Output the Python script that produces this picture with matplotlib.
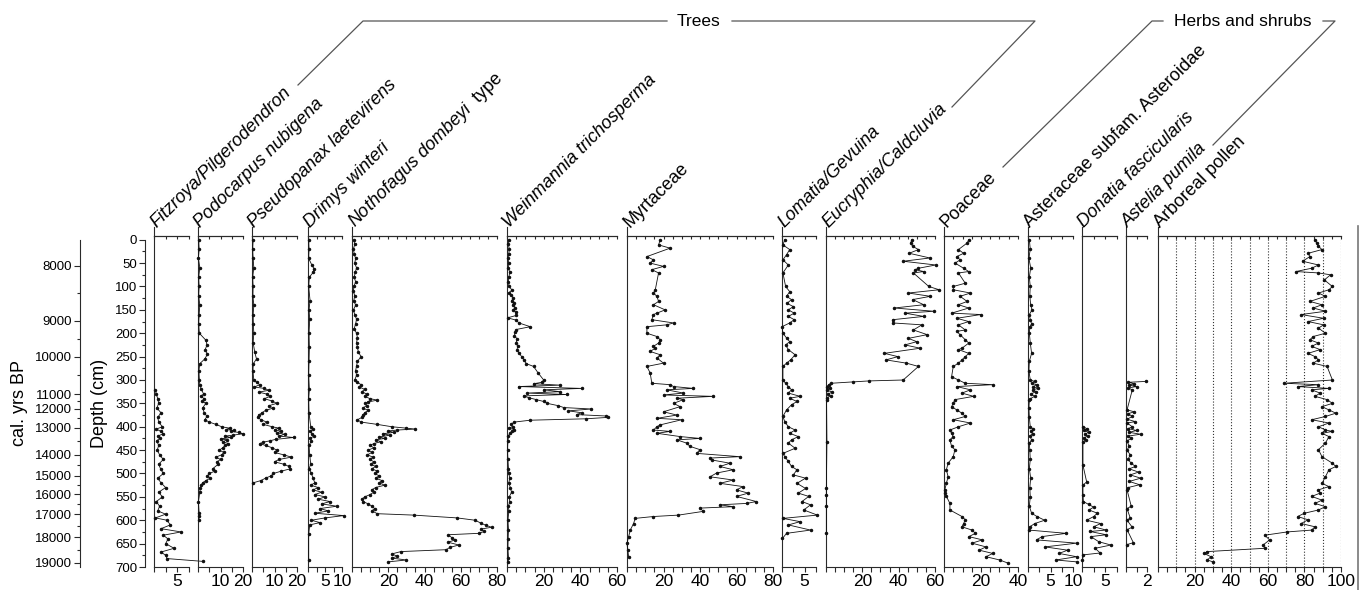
import matplotlib.pyplot as plt
import numpy as np
from matplotlib.lines import Line2D

plt.rcParams['font.family'] = ['Liberation Sans', 'DejaVu Sans']
plt.rcParams['mathtext.fontset'] = 'custom'
plt.rcParams['mathtext.rm'] = 'Liberation Sans'
plt.rcParams['mathtext.it'] = 'Liberation Sans:italic'

# ---- pollen percentages: (depth cm, %) ----
fitzroya = [(322, 0.3), (330, 0.5), (340, 0.8), (350, 1.0), (360, 0.6), (370, 1.5), (380, 0.8), (390, 1.0),
            (400, 1.8), (405, 0.5), (410, 1.5), (415, 2.0), (420, 0.8), (425, 1.2), (430, 0.6), (440, 1.0),
            (450, 0.7), (460, 1.2), (470, 2.0), (480, 1.0), (490, 1.4), (500, 2.0), (510, 0.8), (520, 1.5),
            (530, 2.5), (540, 1.0), (550, 1.8), (560, 0.5), (570, 1.2), (580, 0.8), (587, 2.5), (595, 0.3),
            (600, 2.8), (610, 3.5), (618, 1.5), (625, 5.8), (632, 2.0), (640, 3.0), (650, 2.5), (660, 4.3),
            (668, 1.5), (675, 2.5), (682, 2.8), (688, 10.5)]

podocarpus = [(0, 0.3), (20, 0.5), (40, 0.2), (60, 0.8), (80, 0.3), (100, 0.5), (120, 0.3), (140, 0.8),
              (160, 0.5), (180, 0.3), (200, 0.6), (215, 3.5), (225, 4.0), (235, 3.2), (245, 4.2), (255, 3.0),
              (265, 0.8), (280, 0.4), (300, 0.6), (310, 0.8), (320, 1.5), (330, 2.5), (335, 1.2), (340, 2.8),
              (345, 1.8), (350, 3.5), (360, 2.0), (370, 2.8), (378, 4.0), (385, 3.0), (390, 5.0), (395, 8.0),
              (400, 10.5), (403, 14.0), (406, 12.5), (408, 16.0), (410, 14.5), (412, 18.0), (415, 20.0),
              (418, 15.5), (420, 12.0), (423, 14.5), (426, 10.0), (428, 13.0), (432, 11.0), (436, 13.5),
              (440, 12.0), (445, 11.0), (450, 9.5), (455, 11.5), (460, 10.5), (465, 8.0), (470, 10.0),
              (475, 8.5), (480, 9.0), (490, 6.5), (495, 7.5), (500, 5.0), (505, 4.2), (510, 5.5), (515, 3.5),
              (520, 2.0), (525, 1.5), (530, 1.0), (540, 0.8), (560, 0.2), (585, 0.5), (590, 0.3), (600, 0.5)]

pseudopanax = [(0, 0.5), (20, 0.3), (40, 0.5), (60, 0.8), (80, 0.3), (100, 0.5), (120, 0.4), (140, 0.8),
               (160, 0.5), (180, 0.6), (200, 0.8), (220, 0.5), (240, 1.2), (255, 2.0), (265, 0.6), (280, 0.4),
               (300, 0.8), (305, 2.0), (310, 3.5), (315, 1.0), (318, 5.5), (322, 7.5), (326, 3.0), (330, 6.5),
               (335, 8.0), (340, 5.5), (345, 9.0), (350, 11.0), (355, 7.5), (360, 9.5), (365, 6.0), (370, 4.5),
               (375, 3.0), (380, 2.5), (385, 4.0), (390, 6.5), (395, 5.0), (400, 9.0), (403, 12.0), (406, 10.0),
               (410, 13.0), (413, 11.0), (416, 14.5), (420, 12.0), (423, 18.5), (427, 10.5), (430, 8.0),
               (433, 5.0), (436, 3.5), (440, 6.0), (445, 9.0), (450, 11.0), (455, 10.0), (460, 14.0),
               (465, 17.5), (470, 12.0), (475, 10.0), (480, 14.0), (485, 16.5), (490, 17.0), (495, 13.0),
               (500, 9.5), (505, 8.5), (510, 6.0), (515, 4.0), (520, 0.5)]

drimys = [(0, 0.2), (20, 0.3), (40, 0.2), (55, 1.2), (62, 1.8), (70, 1.5), (80, 0.4), (100, 0.2), (130, 0.6),
          (150, 0.3), (170, 0.5), (200, 0.3), (230, 0.4), (260, 0.3), (290, 0.2), (320, 0.4), (340, 0.2),
          (370, 0.3), (400, 0.8), (405, 1.5), (410, 0.6), (415, 1.2), (420, 1.8), (425, 0.5), (430, 1.0),
          (440, 0.3), (460, 0.5), (480, 0.8), (490, 0.3), (500, 1.0), (510, 1.5), (520, 2.0), (525, 0.8),
          (530, 3.0), (535, 1.5), (540, 4.0), (545, 2.0), (550, 5.0), (555, 3.0), (560, 6.5), (565, 4.0),
          (570, 8.5), (575, 3.5), (580, 6.0), (585, 2.0), (590, 10.5), (595, 5.0), (600, 1.0), (605, 3.5),
          (610, 0.5), (630, 0.2), (685, 0.2)]

nothofagus = [(0, 1.0), (10, 1.5), (20, 0.8), (30, 1.2), (40, 2.0), (50, 1.5), (60, 2.5), (70, 1.8), (80, 1.2),
              (90, 2.0), (100, 1.0), (110, 0.8), (120, 1.5), (130, 1.0), (140, 2.0), (150, 0.8), (160, 1.5),
              (170, 2.5), (180, 2.0), (190, 1.2), (200, 2.5), (210, 3.0), (220, 2.5), (230, 3.0), (240, 3.5),
              (250, 5.0), (260, 3.0), (270, 2.5), (280, 2.0), (290, 2.5), (300, 1.5), (305, 3.0), (310, 5.0),
              (315, 4.0), (320, 7.0), (325, 5.5), (330, 8.0), (335, 7.0), (340, 10.0), (343, 14.0), (347, 9.0),
              (350, 7.0), (355, 8.0), (360, 6.0), (365, 9.0), (370, 7.0), (375, 6.0), (380, 5.5), (385, 3.0),
              (390, 5.0), (395, 14.0), (400, 22.0), (403, 30.0), (405, 35.0), (407, 25.0), (409, 20.0),
              (412, 23.0), (415, 17.0), (418, 21.0), (422, 15.0), (425, 18.0), (428, 13.0), (432, 16.0),
              (436, 12.0), (440, 10.0), (445, 12.0), (450, 9.0), (455, 11.0), (460, 8.5), (465, 11.5),
              (470, 10.0), (475, 12.0), (480, 10.5), (485, 13.0), (490, 11.0), (495, 14.0), (500, 12.5),
              (505, 15.0), (510, 13.0), (515, 16.5), (520, 15.0), (525, 18.0), (530, 13.0), (535, 11.0),
              (540, 12.0), (545, 10.0), (550, 7.0), (555, 5.5), (560, 6.0), (565, 9.0), (570, 11.0),
              (575, 12.5), (580, 11.0), (586, 14.0), (589, 34.0), (595, 58.0), (600, 68.0), (606, 71.0),
              (611, 74.0), (615, 77.0), (619, 71.0), (624, 73.0), (628, 70.0), (631, 53.0), (637, 55.0),
              (642, 57.0), (647, 53.0), (653, 59.0), (658, 54.0), (663, 52.0), (667, 27.0), (672, 22.0),
              (677, 25.0), (681, 22.0), (685, 30.0), (689, 20.0)]

weinmannia = [(0, 1.0), (10, 0.8), (20, 1.2), (30, 1.0), (40, 0.5), (50, 1.0), (60, 0.8), (70, 1.5), (80, 1.0),
              (90, 0.7), (100, 1.2), (108, 2.8), (113, 1.0), (118, 2.0), (125, 3.5), (130, 2.5), (135, 4.0),
              (140, 3.0), (145, 4.5), (150, 3.5), (155, 4.8), (162, 5.0), (167, 0.3), (172, 5.0), (178, 6.5),
              (186, 12.7), (192, 5.0), (198, 4.5), (205, 4.0), (212, 5.5), (220, 5.0), (228, 5.8), (235, 5.5),
              (242, 6.5), (250, 8.0), (258, 9.5), (265, 10.5), (271, 14.5), (285, 17.0), (300, 20.0),
              (305, 19.0), (308, 14.5), (311, 29.0), (314, 6.3), (318, 40.7), (321, 20.0), (325, 29.0),
              (328, 11.0), (331, 32.5), (334, 9.0), (338, 12.0), (342, 16.0), (346, 20.0), (350, 22.0),
              (355, 28.0), (359, 31.0), (362, 46.0), (366, 33.5), (370, 40.7), (374, 38.0), (377, 54.0),
              (380, 55.0), (383, 43.0), (386, 12.7), (390, 4.0), (395, 2.0), (400, 3.0), (403, 1.0), (406, 4.0),
              (410, 2.5), (414, 1.5), (420, 0.8), (430, 0.5), (450, 0.3), (470, 0.5), (490, 0.8), (500, 1.0),
              (510, 1.5), (520, 1.0), (530, 1.8), (540, 2.5), (550, 1.2), (560, 1.5), (570, 0.8), (580, 1.0),
              (600, 0.5), (620, 0.8), (640, 0.6), (660, 0.5), (680, 0.8), (690, 0.6)]

myrtaceae = [(0, 18.2), (11, 17.3), (18, 23.6), (36, 10.9), (43, 14.5), (50, 12.7), (57, 20.0), (64, 13.6),
             (71, 17.3), (107, 15.5), (114, 14.5), (121, 16.4), (132, 17.3), (139, 14.5), (150, 20.9),
             (157, 16.4), (160, 14.5), (171, 13.6), (178, 25.5), (182, 21.8), (186, 10.9), (200, 10.9),
             (207, 16.4), (214, 18.2), (221, 17.3), (228, 14.5), (232, 15.5), (239, 12.7), (246, 18.2),
             (253, 16.4), (264, 20.0), (271, 10.9), (285, 12.7), (307, 13.6), (310, 23.6), (314, 25.5),
             (318, 36.4), (321, 21.8), (328, 30.9), (332, 20.0), (335, 47.3), (339, 27.3), (342, 30.9),
             (350, 25.5), (357, 29.1), (368, 20.0), (375, 27.3), (382, 16.4), (385, 30.0), (396, 18.2),
             (400, 16.4), (407, 14.5), (410, 23.6), (414, 16.4), (421, 29.1), (425, 40.0), (428, 27.3),
             (435, 32.7), (442, 34.5), (449, 40.0), (457, 38.2), (464, 61.8), (467, 45.5), (471, 46.4),
             (478, 56.4), (485, 50.9), (492, 58.2), (499, 49.1), (507, 45.5), (514, 58.2), (521, 50.9),
             (528, 63.6), (535, 60.0), (542, 66.4), (549, 60.0), (560, 70.9), (564, 65.5), (567, 50.9),
             (571, 58.2), (574, 40.0), (581, 41.8), (589, 28.2), (592, 14.5), (596, 4.5), (607, 3.6),
             (621, 1.8), (635, 0.9), (649, 0.0), (664, 0.4), (678, 0.9)]

lomatia = [(0, 0.6), (11, 0.2), (21, 1.7), (32, 1.0), (43, 0.2), (54, 1.4), (71, 0.2), (100, 0.8), (111, 1.7),
           (121, 1.0), (128, 2.1), (136, 1.1), (143, 2.5), (150, 1.4), (157, 2.7), (164, 1.4), (171, 2.7),
           (178, 1.7), (186, 0.0), (200, 0.2), (210, 1.0), (218, 1.7), (225, 0.8), (235, 1.4), (246, 2.9),
           (257, 1.9), (264, 1.0), (271, 0.2), (300, 0.2), (307, 0.8), (314, 1.4), (321, 2.1), (328, 1.4),
           (335, 4.0), (339, 1.7), (346, 3.3), (353, 2.1), (364, 1.0), (378, 0.2), (389, 0.6), (400, 1.4),
           (407, 2.9), (414, 1.7), (421, 3.6), (428, 2.1), (435, 1.4), (446, 2.9), (457, 0.2), (464, 0.6),
           (474, 1.4), (485, 2.1), (492, 3.3), (503, 2.5), (510, 5.2), (521, 3.3), (532, 5.2), (542, 3.6),
           (549, 5.9), (560, 4.4), (567, 6.3), (578, 4.8), (589, 7.8), (596, 0.2), (603, 4.0), (610, 1.4),
           (621, 6.3), (628, 1.0), (639, 0.1)]

eucryphia = [(0, 47.2), (7, 46.6), (14, 47.7), (21, 50.9), (29, 45.8), (39, 57.2), (46, 42.5), (54, 60.4),
             (61, 50.9), (64, 49.1), (68, 53.8), (71, 48.1), (100, 56.6), (107, 62.3), (114, 45.3), (121, 57.5),
             (128, 47.7), (139, 53.8), (146, 37.7), (153, 59.4), (157, 43.4), (164, 53.8), (171, 36.8),
             (178, 36.8), (182, 52.8), (193, 48.1), (203, 55.7), (211, 45.3), (218, 50.0), (225, 43.4),
             (232, 51.9), (243, 32.1), (250, 39.6), (257, 33.0), (264, 44.3), (271, 50.9), (300, 42.5),
             (302, 23.6), (304, 15.1), (307, 2.8), (310, 1.5), (314, 0.5), (318, 2.0), (322, 0.8), (326, 3.5),
             (330, 1.0), (334, 2.5), (338, 0.5), (342, 0.3), (432, 0.5), (530, 0.2), (545, 0.2), (570, 0.2),
             (628, 0.2)]

poaceae = [(0, 13.4), (7, 12.5), (21, 7.8), (29, 10.6), (36, 6.9), (43, 8.7), (50, 6.0), (61, 10.6), (68, 13.4),
           (71, 7.8), (93, 11.5), (100, 5.0), (107, 5.0), (114, 14.3), (121, 8.7), (132, 12.5), (139, 7.8),
           (146, 13.4), (157, 4.1), (160, 19.9), (168, 6.9), (175, 13.4), (182, 7.8), (193, 11.5), (196, 6.9),
           (203, 8.7), (214, 11.5), (221, 13.4), (232, 9.7), (235, 7.8), (243, 13.4), (250, 11.5), (257, 9.7),
           (264, 7.8), (271, 5.0), (293, 4.1), (300, 7.8), (307, 11.5), (310, 26.4), (314, 6.9), (321, 14.3),
           (328, 9.7), (335, 16.0), (342, 5.9), (350, 5.0), (357, 4.1), (364, 6.9), (371, 9.7), (378, 11.5),
           (385, 5.0), (392, 14.3), (400, 7.8), (407, 3.2), (414, 4.1), (421, 5.0), (428, 3.2), (442, 4.1),
           (449, 5.9), (464, 5.0), (478, 2.2), (492, 1.3), (507, 2.2), (521, 1.3), (535, 0.4), (542, 0.4),
           (549, 1.3), (564, 3.2), (578, 3.2), (592, 9.7), (599, 11.5), (607, 10.6), (614, 9.7), (621, 15.1),
           (628, 17.0), (635, 13.4), (642, 20.8), (649, 15.1), (657, 22.7), (664, 19.0), (671, 26.4),
           (678, 22.7), (685, 30.1), (692, 34.8)]

asteraceae = [(0, 0.3), (20, 0.5), (40, 0.2), (60, 0.6), (80, 0.3), (100, 0.5), (120, 0.4), (140, 0.6),
              (150, 0.9), (160, 0.3), (171, 0.5), (180, 0.8), (186, 0.4), (200, 0.3), (220, 0.5), (243, 0.8),
              (260, 0.3), (280, 0.2), (300, 0.5), (303, 1.5), (307, 0.8), (310, 1.9), (314, 1.2), (318, 2.3),
              (321, 1.0), (325, 1.8), (330, 0.6), (335, 1.5), (340, 0.5), (343, 0.3), (360, 0.2), (380, 0.3),
              (400, 0.5), (405, 1.2), (410, 0.6), (415, 1.0), (420, 0.4), (428, 0.8), (435, 0.3), (450, 0.4),
              (470, 0.5), (490, 0.3), (510, 0.6), (530, 0.4), (550, 0.5), (570, 0.3), (585, 0.8), (592, 2.0),
              (600, 3.7), (607, 1.5), (614, 0.4), (621, 0.2), (628, 8.5), (635, 3.1), (642, 1.9), (649, 10.8),
              (657, 3.8), (664, 8.8), (671, 6.9), (678, 10.8), (685, 6.2), (689, 10.8)]

donatia = [(400, 0.3), (404, 1.0), (408, 0.5), (412, 1.4), (416, 0.6), (420, 1.2), (424, 0.4), (428, 0.8),
           (432, 0.2), (482, 0.2), (518, 1.0), (525, 0.2), (546, 0.2), (560, 0.3), (566, 1.4), (572, 2.5),
           (578, 1.5), (585, 3.3), (592, 2.5), (600, 1.0), (607, 4.0), (614, 2.5), (621, 5.2), (624, 1.7),
           (631, 5.2), (635, 1.9), (646, 3.6), (653, 6.2), (660, 2.8), (670, 3.9), (674, 0.3), (685, 0.1)]

astelia = [(303, 1.9), (305, 0.2), (308, 0.8), (311, 0.3), (314, 1.0), (317, 0.2), (321, 0.6), (364, 0.1),
           (368, 0.8), (372, 0.2), (378, 0.6), (384, 0.1), (389, 0.9), (392, 0.1), (400, 0.6), (404, 0.2),
           (408, 1.0), (412, 0.3), (416, 1.4), (420, 0.2), (425, 0.5), (430, 0.1), (442, 0.3), (450, 0.1),
           (460, 0.4), (470, 0.2), (478, 0.5), (485, 0.9), (490, 0.3), (497, 1.2), (503, 0.4), (510, 1.4),
           (517, 0.3), (524, 1.3), (530, 0.2), (535, 0.1), (570, 0.5), (575, 0.1), (595, 0.4), (600, 0.1),
           (615, 0.6), (620, 0.1), (648, 0.7), (652, 0.1)]

arboreal = [(0, 85.8), (7, 86.7), (14, 87.7), (21, 89.6), (29, 82.0), (36, 83.0), (46, 79.0), (54, 87.7),
            (61, 83.9), (68, 75.4), (71, 87.7), (75, 94.3), (86, 90.9), (100, 95.3), (107, 93.4), (114, 87.7),
            (121, 91.5), (132, 83.0), (139, 89.6), (146, 84.8), (153, 91.5), (160, 78.2), (168, 90.5),
            (175, 82.0), (182, 90.5), (189, 87.7), (200, 91.5), (207, 84.8), (214, 83.0), (221, 87.7),
            (228, 83.9), (235, 88.6), (243, 82.0), (250, 85.8), (257, 87.7), (264, 84.8), (271, 92.4),
            (300, 95.3), (307, 68.8), (310, 87.7), (314, 76.3), (318, 93.4), (321, 83.9), (328, 88.6),
            (335, 85.8), (342, 92.4), (350, 95.3), (357, 89.6), (364, 93.4), (371, 97.2), (378, 91.5),
            (385, 84.0), (392, 93.4), (400, 87.7), (407, 91.5), (410, 95.3), (414, 89.6), (421, 93.4),
            (435, 91.5), (449, 87.7), (464, 89.6), (478, 95.3), (485, 97.2), (492, 93.4), (507, 91.5),
            (521, 89.6), (528, 93.4), (535, 87.7), (542, 88.6), (549, 84.0), (557, 89.6), (564, 85.8),
            (571, 91.5), (578, 87.7), (585, 80.0), (592, 76.3), (599, 82.0), (607, 78.2), (614, 85.8),
            (621, 84.0), (625, 70.6), (632, 58.3), (642, 61.0), (653, 57.4), (660, 58.3), (667, 27.0),
            (671, 25.2), (678, 28.9), (685, 27.0), (689, 30.0)]

# calibrated age scale and where each age sits on the depth axis
age_ticks = [8000, 9000, 10000, 11000, 12000, 13000, 14000, 15000, 16000, 17000, 18000, 19000]
age_depth = [56, 173, 250, 330, 362, 402, 460, 505, 544, 587, 636, 691]

taxa = ['Fitzroya/Pilgerodendron', 'Podocarpus nubigena', 'Pseudopanax laetevirens', 'Drimys winteri',
        r'$\mathit{Nothofagus\ dombeyi}$  type', 'Weinmannia trichosperma', 'Myrtaceae', 'Lomatia/Gevuina',
        'Eucryphia/Caldcluvia', 'Poaceae', 'Asteraceae subfam. Asteroidae', 'Donatia fascicularis',
        'Astelia pumila', 'Arboreal pollen']
is_italic = [True, True, True, True, False, True, False, True, True, False, False, True, True, False]
series = [fitzroya, podocarpus, pseudopanax, drimys, nothofagus, weinmannia, myrtaceae, lomatia,
          eucryphia, poaceae, asteraceae, donatia, astelia, arboreal]
tick_labels = [[5], [10, 20], [10, 20], [5, 10], [20, 40, 60, 80], [20, 40, 60], [20, 40, 60, 80], [5],
               [20, 40, 60], [20, 40], [5, 10], [5], [2], [20, 40, 60, 80, 100]]

# ---- layout, in pixels of the 1363x590 picture ----
W, H = 1363, 590
panel_left = [154, 198, 252, 308, 352, 507, 627, 782, 826, 944, 1028, 1082, 1126, 1158]
panel_right = [189, 243, 297, 342, 497, 617, 773, 816, 935, 1018, 1073, 1117, 1147, 1341]
x_max = [7.5, 20, 20, 10, 80, 60, 80, 7.5, 60, 40, 10, 7.5, 2, 100]
tick_step = [2.5, 5, 5, 2.5, 5, 5, 5, 2.5, 5, 5, 2.5, 2.5, 1, 5]
TOP, BOTTOM = 236, 567
INK = '#2a2a2a'
GREY = '#555555'


def fxy(x, y):
    return x / W, 1 - y / H


fig = plt.figure(figsize=(W / 100, H / 100), dpi=100)
ax_b = 1 - BOTTOM / H
ax_h = (BOTTOM - TOP) / H
ylim = (700, -8)

for i, data in enumerate(series):
    l, r = panel_left[i], panel_right[i]
    ax = fig.add_axes([l / W, ax_b, (r - l) / W, ax_h])
    ax.patch.set_visible(False)
    depth, pct = np.array(data).T
    ax.plot(pct, depth, color='#111111', lw=0.6, marker='o', ms=1.5, clip_on=False, zorder=3)
    ax.set_xlim(0, x_max[i])
    ax.set_ylim(*ylim)
    ax.set_yticks([])
    ax.spines['right'].set_visible(False)
    for s in ['left', 'top', 'bottom']:
        ax.spines[s].set_linewidth(0.8)
        ax.spines[s].set_color(INK)
    ticks = np.arange(0, x_max[i] + 1e-9, tick_step[i])
    ax.set_xticks(ticks)
    ax.set_xticklabels([f'{t:g}' if t in tick_labels[i] else '' for t in ticks])
    ax.tick_params(axis='x', direction='out', length=3.5, width=0.8, color=INK,
                   labelsize=12.5, pad=1.5)
    sec = ax.secondary_xaxis('top')
    sec.set_xticks(ticks)
    sec.tick_params(axis='x', direction='in', length=2.5, width=0.8, color=INK, labeltop=False)
    sec.spines['top'].set_linewidth(0.8)
    sec.spines['top'].set_color(INK)
    # left edge reaches a little above the frame
    ax.plot([0, 0], [1, 1 + 9 / (BOTTOM - TOP)], transform=ax.transAxes, color=INK, lw=0.8,
            clip_on=False)
    if i == len(series) - 1:
        for g in range(10, 101, 10):
            ax.axvline(g, ls=':', lw=0.8, color='#333333', zorder=1)
    fig.text(*fxy(l + 2.5, 228), taxa[i], rotation=45, rotation_mode='anchor', ha='left',
             va='baseline', fontsize=13, style='italic' if is_italic[i] else 'normal')

# depth scale
axd = fig.add_axes([145 / W, ax_b, 0.0001, ax_h])
axd.patch.set_visible(False)
for s in ['top', 'right', 'bottom']:
    axd.spines[s].set_visible(False)
axd.spines['left'].set_bounds(0, 700)
axd.spines['left'].set_color(INK)
axd.spines['left'].set_linewidth(0.8)
axd.set_ylim(*ylim)
axd.set_xticks([])
axd.set_yticks(np.arange(0, 701, 50))
axd.set_yticks(np.arange(25, 700, 50), minor=True)
axd.tick_params(axis='y', which='major', length=4, width=0.8, color=INK, labelsize=9.5, pad=1.5)
axd.tick_params(axis='y', which='minor', length=2.5, width=0.8, color=INK)

# age scale
axa = fig.add_axes([80 / W, ax_b, 0.0001, ax_h])
axa.patch.set_visible(False)
for s in ['top', 'right', 'bottom']:
    axa.spines[s].set_visible(False)
axa.spines['left'].set_bounds(0, 700)
axa.spines['left'].set_color(INK)
axa.spines['left'].set_linewidth(0.8)
axa.set_ylim(*ylim)
axa.set_xticks([])
axa.set_yticks(age_depth)
axa.set_yticklabels([str(a) for a in age_ticks])
axa.set_yticks([(a + b) / 2 for a, b in zip(age_depth[:-1], age_depth[1:])], minor=True)
axa.tick_params(axis='y', which='major', length=4, width=0.8, color=INK, labelsize=9.5, pad=2)
axa.tick_params(axis='y', which='minor', length=2.5, width=0.8, color=INK)

fig.text(*fxy(20, 403), 'cal. yrs BP', rotation=90, ha='center', va='center', fontsize=13)
fig.text(*fxy(99, 403), 'Depth (cm)', rotation=90, ha='center', va='center', fontsize=13)

# group brackets
brackets = [
    [(298, 85), (363, 21), (667, 21)],
    [(732, 21), (1035, 21), (952, 107)],
    [(1003, 167), (1152, 21), (1163, 21)],
    [(1323, 21), (1335, 21), (1213, 145)],
]
for pts in brackets:
    xs = [p[0] / W for p in pts]
    ys = [1 - p[1] / H for p in pts]
    fig.add_artist(Line2D(xs, ys, color=GREY, lw=0.9, transform=fig.transFigure))
fig.text(*fxy(699, 21), 'Trees', ha='center', va='center', fontsize=12.5)
fig.text(*fxy(1243, 21), 'Herbs and shrubs', ha='center', va='center', fontsize=12.5)

fig.add_artist(Line2D([1358 / W, 1358 / W], [1 - 226 / H, 0], color='#777777', lw=1.2,
                      transform=fig.transFigure))

fig.savefig('out.png', dpi=100, facecolor='white')
